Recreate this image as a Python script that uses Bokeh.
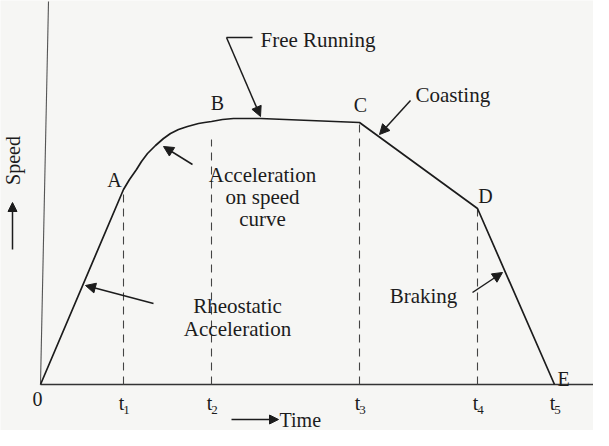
import math
from bokeh.plotting import figure
from bokeh.models import Arrow, NormalHead, Range1d
from bokeh.core.properties import value
from bokeh.embed import file_html
from bokeh.resources import INLINE

# ---- data (time / speed in drawing units) ----
curve_time = [0, 83, 89, 96, 101, 107, 115, 123, 130, 138, 147, 158, 164, 171, 182,
              193, 220, 319, 437, 514]
curve_speed = [0, 195, 205, 215, 223, 231, 239, 246, 251, 255, 258, 261, 262, 263, 265,
               266, 266, 262, 176, 0]

tick_times = [83, 171, 319, 437, 514]
tick_subs = ["1", "2", "3", "4", "5"]
dash_top = [195, 245, 262, 176]

point_names = ["A", "B", "C", "D", "E"]
point_x = [74, 177, 320, 445, 523]
point_y = [205, 282, 280, 189, 6]

FONT = value("Liberation Serif")
INK = "#1c1c1c"

p = figure(width=593, height=430, output_backend="svg", toolbar_location=None,
           x_range=Range1d(-40, 553), y_range=Range1d(-46, 384),
           min_border=0, min_border_left=0, min_border_right=0,
           min_border_top=0, min_border_bottom=0)
p.xaxis.visible = False
p.yaxis.visible = False
p.xgrid.visible = False
p.ygrid.visible = False
p.outline_line_color = None
p.background_fill_color = "#f6f6f4"
p.border_fill_color = "#f6f6f4"

# axes
p.line([0, 553], [0, 0], line_color="#333333", line_width=1.6)
p.line([0, 8], [0, 383], line_color="#555555", line_width=1.1)

# dashed time markers
for t, top in zip(tick_times[:4], dash_top):
    p.line([t, t], [0, top], line_color="#444444", line_width=1.1, line_dash="8 6")

# speed-time curve
p.line(curve_time, curve_speed, line_color=INK, line_width=1.7, line_join="round")

# point labels
p.text(point_x, point_y, text=point_names, text_font=FONT, text_font_size="20px",
       text_align="center", text_baseline="middle", text_color=INK)

# time tick labels
p.text([-3], [-14], text=["0"], text_font=FONT, text_font_size="20px",
       text_align="center", text_baseline="middle", text_color=INK)
p.text([t - 2 for t in tick_times], [-18] * 5, text=["t"] * 5, text_font=FONT,
       text_font_size="20px", text_align="center", text_baseline="middle", text_color=INK)
p.text([t + 3 for t in tick_times], [-25] * 5, text=tick_subs, text_font=FONT,
       text_font_size="13px", text_align="center", text_baseline="middle", text_color=INK)

def arrow(x0, y0, x1, y1, size=10):
    p.add_layout(Arrow(end=NormalHead(size=size, fill_color=INK, line_color=INK),
                       x_start=x0, y_start=y0, x_end=x1, y_end=y1,
                       line_color=INK, line_width=1.5))

ANN = "21px"

# annotations
p.line([212, 186], [347, 347], line_color=INK, line_width=1.5)
arrow(186, 347, 220, 268)
p.text([220], [345], text=["Free Running"], text_font=FONT, text_font_size=ANN,
       text_align="left", text_baseline="middle", text_color=INK)

arrow(370, 284, 339, 250)
p.text([375], [290], text=["Coasting"], text_font=FONT, text_font_size=ANN,
       text_align="left", text_baseline="middle", text_color=INK)

arrow(152, 220, 123, 238)
p.text([222, 222, 222], [210, 188, 166], text=["Acceleration", "on speed", "curve"],
       text_font=FONT, text_font_size=ANN, text_align="center",
       text_baseline="middle", text_color=INK)

arrow(113, 81, 45, 99)
p.text([197, 197], [79, 56], text=["Rheostatic", "Acceleration"], text_font=FONT,
       text_font_size=ANN, text_align="center", text_baseline="middle", text_color=INK)

arrow(432, 92, 462, 112)
p.text([383], [89], text=["Braking"], text_font=FONT, text_font_size=ANN,
       text_align="center", text_baseline="middle", text_color=INK)

# axis titles
p.text([-28], [224], text=["Speed"], angle=math.pi / 2, text_font=FONT,
       text_font_size="20px", text_align="center", text_baseline="middle", text_color=INK)
arrow(-28, 135, -28, 182, size=9)
arrow(191, -35, 238, -35, size=9)
p.text([239], [-35], text=["Time"], text_font=FONT, text_font_size="20px",
       text_align="left", text_baseline="middle", text_color=INK)

open("out.html", "w").write(file_html(p, INLINE))
